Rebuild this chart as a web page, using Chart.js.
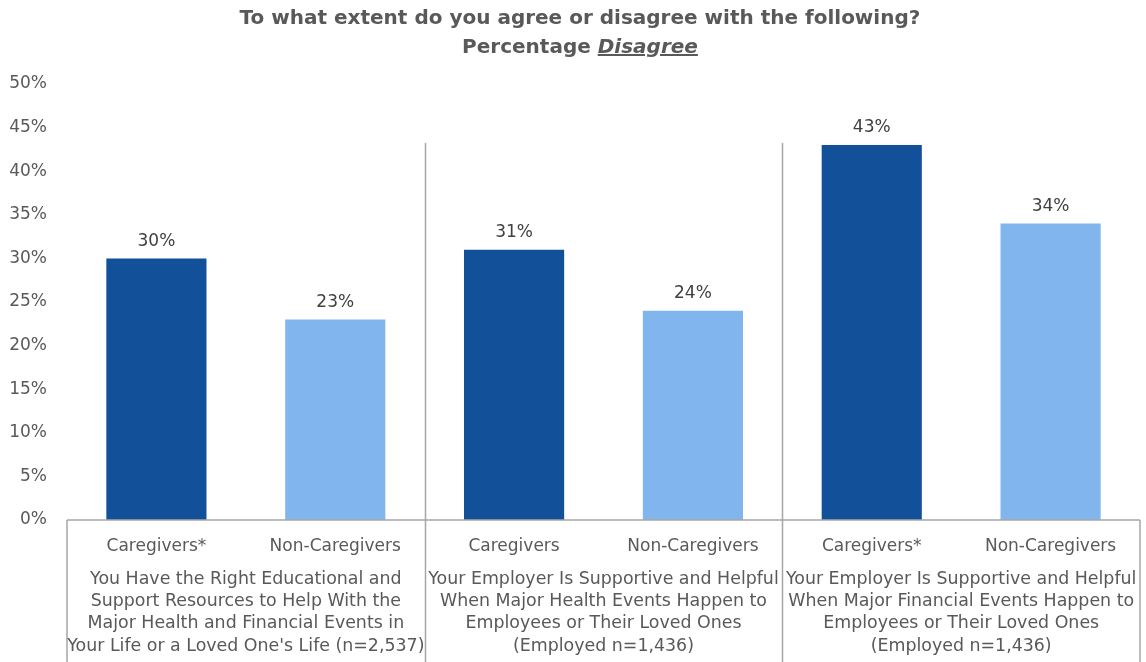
<!DOCTYPE html>
<html>
<head>
<meta charset="utf-8">
<script src="https://cdn.jsdelivr.net/npm/chart.js@4.4.1/dist/chart.umd.min.js"></script>
<style>
  html, body { margin: 0; padding: 0; background: #fff; }
  #wrap { position: relative; width: 1146px; height: 662px; }
  #title {
    position: absolute; left: 0; top: 3px; width: 1160px;
    text-align: center; color: #595959;
    font: bold 20px "DejaVu Sans", sans-serif; line-height: 29px;
  }
  #title u { font-style: italic; }
</style>
</head>
<body>
<div id="wrap">
  <div id="title">To what extent do you agree or disagree with the following?<br>Percentage <u>Disagree</u></div>
  <canvas id="chart" width="1146" height="662"></canvas>
</div>
<script>
// bar labels, values and the statement each pair belongs to
const barLabels = ['Caregivers*', 'Non-Caregivers', 'Caregivers', 'Non-Caregivers', 'Caregivers*', 'Non-Caregivers'];
const disagreePct = [30, 23, 31, 24, 43, 34];
const groupLabels = [
    ['You Have the Right Educational and', 'Support Resources to Help With the', 'Major Health and Financial Events in', "Your Life or a Loved One's Life (n=2,537)"],
    ['Your Employer Is Supportive and Helpful', 'When Major Health Events Happen to', 'Employees or Their Loved Ones', '(Employed n=1,436)'],
    ['Your Employer Is Supportive and Helpful', 'When Major Financial Events Happen to', 'Employees or Their Loved Ones', '(Employed n=1,436)']
];
const yTicks = [0, 5, 10, 15, 20, 25, 30, 35, 40, 45, 50];

const DARK = '#12509a';
const LIGHT = '#80b5ee';
const TEXT = '#595959';
const LINE = '#a6a6a6';
const FONT = '"DejaVu Sans", sans-serif';

// values above bars
const valueLabels = {
    id: 'valueLabels',
    afterDatasetsDraw(chart) {
        const ctx = chart.ctx;
        const meta = chart.getDatasetMeta(0);
        ctx.save();
        ctx.font = '17px ' + FONT;
        ctx.fillStyle = '#404040';
        ctx.textAlign = 'center';
        ctx.textBaseline = 'middle';
        meta.data.forEach((bar, i) => {
            ctx.fillText(disagreePct[i] + '%', bar.x, bar.y - 17);
        });
        ctx.restore();
    }
};

// axis line, group boxes, dividers and statement labels
const groupAxis = {
    id: 'groupAxis',
    afterDraw(chart) {
        const ctx = chart.ctx;
        const x = chart.scales.x;
        const area = chart.chartArea;
        const bottom = chart.height;
        const half = (x.getPixelForValue(1) - x.getPixelForValue(0)) / 2;
        ctx.save();
        ctx.strokeStyle = LINE;
        ctx.lineWidth = 1.5;
        ctx.beginPath();
        ctx.moveTo(area.left, area.bottom);
        ctx.lineTo(area.right, area.bottom);
        ctx.moveTo(area.left, area.bottom);
        ctx.lineTo(area.left, bottom);
        ctx.moveTo(area.right, area.bottom);
        ctx.lineTo(area.right, bottom);
        for (let g = 1; g < groupLabels.length; g++) {
            const dx = Math.round(x.getPixelForValue(g * 2) - half) + 0.5;
            ctx.moveTo(dx, area.top + 59);
            ctx.lineTo(dx, bottom);
        }
        ctx.stroke();

        ctx.font = '17.4px ' + FONT;
        ctx.fillStyle = TEXT;
        ctx.textAlign = 'center';
        ctx.textBaseline = 'middle';
        groupLabels.forEach((lines, g) => {
            const cx = (x.getPixelForValue(g * 2) + x.getPixelForValue(g * 2 + 1)) / 2;
            lines.forEach((t, k) => {
                ctx.fillText(t, cx, area.bottom + 59 + k * 22.4);
            });
        });
        ctx.restore();
    }
};

new Chart(document.getElementById('chart'), {
    type: 'bar',
    data: {
        labels: barLabels,
        datasets: [{
            data: disagreePct,
            backgroundColor: barLabels.map((l, i) => i % 2 === 0 ? DARK : LIGHT),
            barPercentage: 0.56,
            categoryPercentage: 1
        }]
    },
    options: {
        responsive: false,
        animation: false,
        layout: { padding: { top: 84, right: 6, bottom: 0, left: 0 } },
        plugins: {
            legend: { display: false },
            tooltip: { enabled: false }
        },
        scales: {
            x: {
                grid: { display: false },
                border: { display: false },
                ticks: {
                    color: TEXT,
                    font: { family: FONT, size: 17 },
                    padding: 8,
                    maxRotation: 0,
                    autoSkip: false
                },
                afterFit(scale) { scale.height = 142; }
            },
            y: {
                min: 0,
                max: 50,
                grid: { display: false },
                border: { display: false },
                afterBuildTicks(scale) { scale.ticks = yTicks.map(v => ({ value: v })); },
                ticks: {
                    color: TEXT,
                    font: { family: FONT, size: 17 },
                    padding: 12,
                    callback: v => v + '%'
                },
                afterFit(scale) { scale.width = 67; }
            }
        }
    },
    plugins: [valueLabels, groupAxis]
});
</script>
</body>
</html>
